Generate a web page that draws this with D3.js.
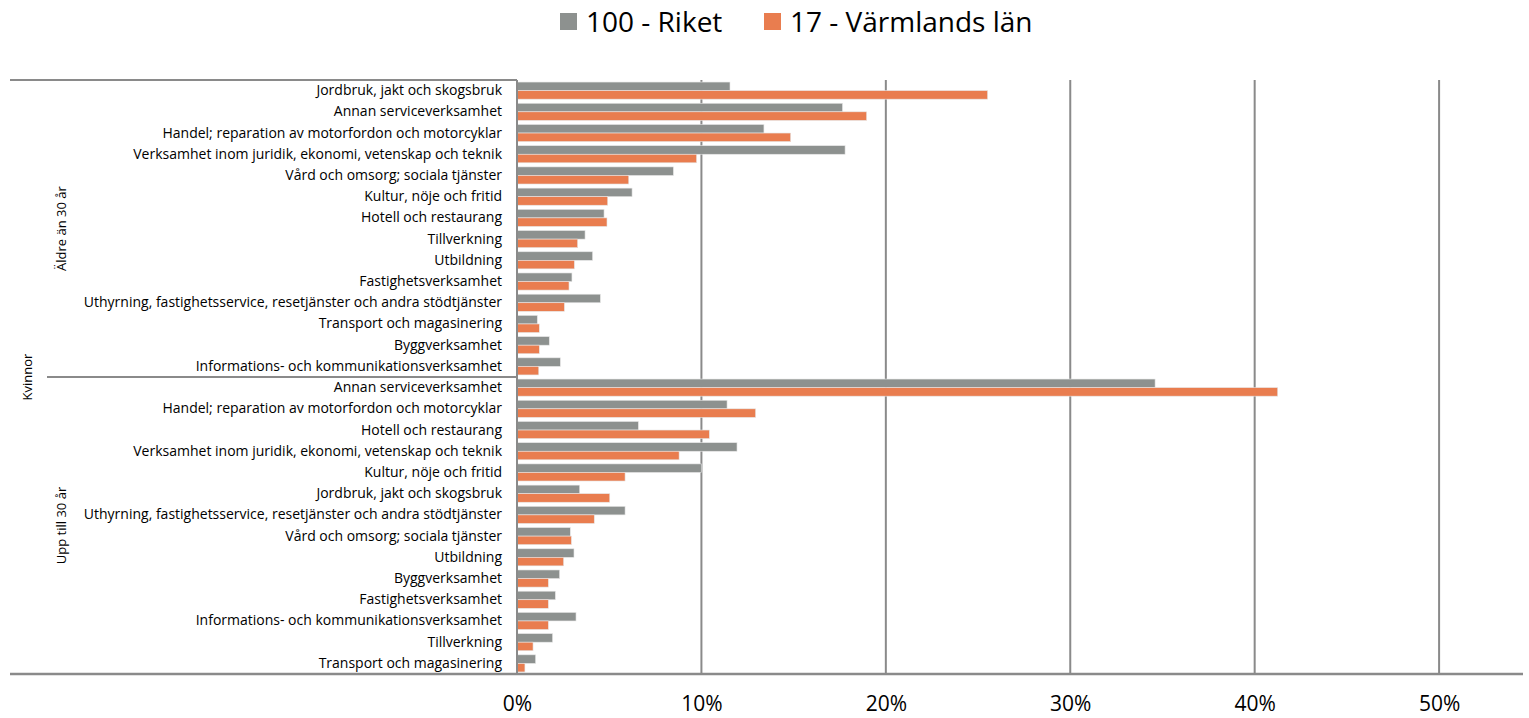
<!DOCTYPE html>
<html>
<head>
<meta charset="utf-8">
<script src="https://cdn.jsdelivr.net/npm/d3@7"></script>
<style>
  html, body { margin: 0; padding: 0; background: #fff; }
  svg { display: block; }
  text { font-family: "Open Sans", Lato, sans-serif; fill: #000; }
</style>
</head>
<body>
<svg id="chart" width="1529" height="718"></svg>
<script>
// ---- data ----
const seriesNames = ["100 - Riket", "17 - Värmlands län"];
const seriesColors = ["#8d918f", "#e97d4f"];
const outerLabel = "Kvinnor";
const groupLabels = ["Äldre än 30 år", "Upp till 30 år"];

const categoriesOlder = [
  "Jordbruk, jakt och skogsbruk",
  "Annan serviceverksamhet",
  "Handel; reparation av motorfordon och motorcyklar",
  "Verksamhet inom juridik, ekonomi, vetenskap och teknik",
  "Vård och omsorg; sociala tjänster",
  "Kultur, nöje och fritid",
  "Hotell och restaurang",
  "Tillverkning",
  "Utbildning",
  "Fastighetsverksamhet",
  "Uthyrning, fastighetsservice, resetjänster och andra stödtjänster",
  "Transport och magasinering",
  "Byggverksamhet",
  "Informations- och kommunikationsverksamhet"
];
const rikeOlder =     [0.1155, 0.1765, 0.1339, 0.1779, 0.0848, 0.0624, 0.0472, 0.0369, 0.0410, 0.0298, 0.0452, 0.0110, 0.0175, 0.0235];
const varmlandOlder = [0.2552, 0.1896, 0.1484, 0.0974, 0.0606, 0.0492, 0.0488, 0.0329, 0.0311, 0.0282, 0.0257, 0.0121, 0.0121, 0.0118];

const categoriesYounger = [
  "Annan serviceverksamhet",
  "Handel; reparation av motorfordon och motorcyklar",
  "Hotell och restaurang",
  "Verksamhet inom juridik, ekonomi, vetenskap och teknik",
  "Kultur, nöje och fritid",
  "Jordbruk, jakt och skogsbruk",
  "Uthyrning, fastighetsservice, resetjänster och andra stödtjänster",
  "Vård och omsorg; sociala tjänster",
  "Utbildning",
  "Byggverksamhet",
  "Fastighetsverksamhet",
  "Informations- och kommunikationsverksamhet",
  "Tillverkning",
  "Transport och magasinering"
];
const rikeYounger =     [0.3460, 0.1139, 0.0658, 0.1193, 0.1000, 0.0340, 0.0586, 0.0289, 0.0309, 0.0231, 0.0208, 0.0320, 0.0193, 0.0101];
const varmlandYounger = [0.4125, 0.1294, 0.1043, 0.0879, 0.0586, 0.0503, 0.0419, 0.0295, 0.0253, 0.0170, 0.0170, 0.0170, 0.0087, 0.0043];

const xTicks = [0, 0.1, 0.2, 0.3, 0.4, 0.5];

// ---- build rows ----
const rows = [];
categoriesOlder.forEach((c, i) => rows.push({ key: "o" + i, group: 0, label: c, values: [rikeOlder[i], varmlandOlder[i]] }));
categoriesYounger.forEach((c, i) => rows.push({ key: "y" + i, group: 1, label: c, values: [rikeYounger[i], varmlandYounger[i]] }));

// ---- layout ----
const svg = d3.select("#chart");
const plotLeft = 517, plotRight = 1523, plotTop = 80, plotBottom = 674;
const outerLeft = 10, groupLineLeft = 47;

const x = d3.scaleLinear().domain([0, 0.5455]).range([plotLeft, plotRight]);
const y = d3.scaleBand().domain(rows.map(r => r.key)).range([plotTop, plotBottom]).paddingInner(0).paddingOuter(0);
const inner = d3.scaleBand().domain([0, 1]).range([0, y.bandwidth()]).paddingInner(0).paddingOuter(0.24);

const gridColor = "#8a8a8a";

// gridlines
svg.append("g").selectAll("line").data(xTicks.filter(t => t > 0)).join("line")
  .attr("x1", d => x(d)).attr("x2", d => x(d))
  .attr("y1", plotTop).attr("y2", plotBottom)
  .attr("stroke", gridColor).attr("stroke-width", 2);

// bars
const rowG = svg.append("g").selectAll("g").data(rows).join("g")
  .attr("transform", d => `translate(0,${y(d.key)})`);
rowG.selectAll("rect").data(d => d.values.map((v, i) => ({ v, i }))).join("rect")
  .attr("x", x(0))
  .attr("y", d => inner(d.i))
  .attr("width", d => x(d.v) - x(0))
  .attr("height", inner.bandwidth())
  .attr("fill", d => seriesColors[d.i])
  .attr("stroke", "#e6e6e6").attr("stroke-width", 0.6);

// category axis
const yAxis = d3.axisLeft(y).tickSize(0).tickPadding(15).tickFormat(k => rows.find(r => r.key === k).label);
const yAxisG = svg.append("g").attr("transform", `translate(${plotLeft},0)`).call(yAxis);
yAxisG.select(".domain").remove();
yAxisG.selectAll("text").style("font-size", "14px").style("font-family", "'Open Sans', sans-serif").attr("fill", "#000");

// axis lines
svg.append("line").attr("x1", plotLeft).attr("x2", plotLeft).attr("y1", plotTop).attr("y2", plotBottom)
  .attr("stroke", gridColor).attr("stroke-width", 2);
svg.append("line").attr("x1", outerLeft).attr("x2", plotLeft).attr("y1", plotTop).attr("y2", plotTop)
  .attr("stroke", gridColor).attr("stroke-width", 2);
const sepY = y("y0");
svg.append("line").attr("x1", groupLineLeft).attr("x2", plotLeft).attr("y1", sepY).attr("y2", sepY)
  .attr("stroke", gridColor).attr("stroke-width", 2);
svg.append("line").attr("x1", outerLeft).attr("x2", plotRight).attr("y1", plotBottom).attr("y2", plotBottom)
  .attr("stroke", gridColor).attr("stroke-width", 2.5);

// group labels
const groupCenters = [(plotTop + sepY) / 2, (sepY + plotBottom) / 2];
groupLabels.forEach((g, i) => {
  svg.append("text").attr("transform", `translate(66,${groupCenters[i]}) rotate(-90)`)
    .attr("text-anchor", "middle").style("font-size", "13px").text(g);
});
svg.append("text").attr("transform", `translate(32,${(plotTop + plotBottom) / 2}) rotate(-90)`)
  .attr("text-anchor", "middle").style("font-size", "13px").text(outerLabel);

// x axis labels
const xAxis = d3.axisBottom(x).tickValues(xTicks).tickSize(0).tickPadding(22).tickFormat(d3.format(".0%"));
const xAxisG = svg.append("g").attr("transform", `translate(0,${plotBottom})`).call(xAxis);
xAxisG.select(".domain").remove();
xAxisG.selectAll("text").style("font-size", "21px").style("font-family", "'Open Sans', sans-serif").attr("fill", "#000");

// legend
const legend = svg.append("g");
const legendX = [560, 764];
seriesNames.forEach((n, i) => {
  legend.append("rect").attr("x", legendX[i]).attr("y", 13).attr("width", 17).attr("height", 17).attr("fill", seriesColors[i]);
  legend.append("text").attr("x", legendX[i] + 26).attr("y", 22).attr("dy", "0.35em")
    .style("font-size", "28px").text(n);
});
</script>
</body>
</html>
